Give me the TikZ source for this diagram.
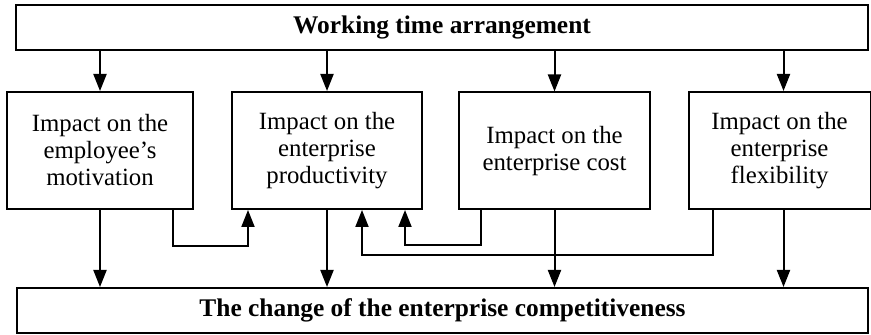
\documentclass[tikz,border=0pt]{standalone}
\usepackage{fontspec}
\setmainfont{Liberation Serif}
\usetikzlibrary{arrows.meta}
\begin{document}
\begin{tikzpicture}[x=0.5pt,y=-0.5pt]
\tikzset{box/.style = {draw, line width=1pt, inner sep=0pt, align=center, font=\fontsize{12.4}{13.5}\selectfont}}
\tikzset{bar/.style = {box, minimum height=22.5pt, font=\fontsize{12.7}{14}\selectfont\bfseries}}
\tikzset{impact/.style = {box, minimum height=58.5pt}}
\tikzset{arrow/.style = {line width=1pt, -{Triangle[length=8.5pt,width=6.5pt]}}}
\useasboundingbox (0,0) rectangle (871,335);
\node[bar, minimum width=426pt](top) at (442,27.5) {Working time arrangement};
\node[impact, minimum width=93pt](b1) at (100,150.5) {Impact on the\\employee's\\motivation};
\node[impact, minimum width=95pt](b2) at (327,150.5) {Impact on the\\enterprise\\productivity};
\node[impact, minimum width=95.5pt](b3) at (554.5,151) {Impact on the\\enterprise cost};
\node[impact, minimum width=91pt](b4) at (779.5,150.5) {Impact on the\\enterprise\\flexibility};
\node[bar, minimum width=425.5pt](bot) at (442.5,310.5) {The change of the enterprise competitiveness};
% from the arrangement to each impact
\draw[arrow] (top.south -| b1.north) -- (b1.north);
\draw[arrow] (top.south -| b2.north) -- (b2.north);
\draw[arrow] (top.south -| b3.north) -- (b3.north);
\draw[arrow] ([xshift=2pt]top.south -| b4.north) -- ([xshift=2pt]b4.north);
% from each impact to the competitiveness
\draw[arrow] (b1.south) -- (b1.south |- bot.north);
\draw[arrow] (b2.south) -- (b2.south |- bot.north);
\draw[arrow] (b3.south) -- (b3.south |- bot.north);
\draw[arrow] ([xshift=2pt]b4.south) -- ([xshift=2pt]b4.south |- bot.north);
% feedback to productivity
\draw[arrow] ([xshift=-10.5pt]b1.south east) -- ++(0,-18pt) -| ([xshift=8.5pt]b2.south west);
\draw[arrow] ([xshift=11.5pt]b3.south west) -- ++(0,-17.5pt) -| ([xshift=-9pt]b2.south east);
\draw[arrow] ([xshift=12.5pt]b4.south west) -- ++(0,-22.5pt) -| ([xshift=17.5pt]b2.south);
\end{tikzpicture}
\end{document}
